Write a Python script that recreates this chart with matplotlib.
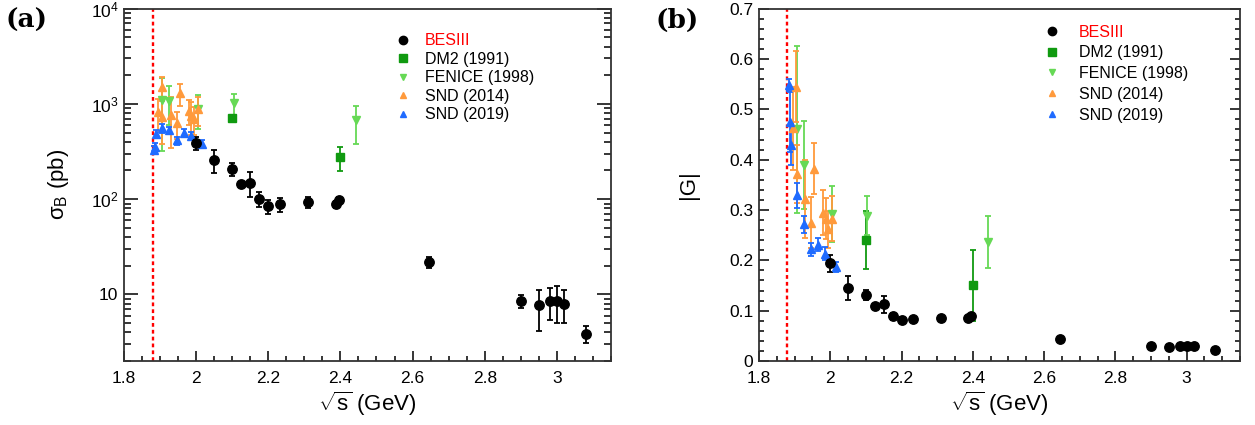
import numpy as np
import matplotlib
matplotlib.use("Agg")
import matplotlib.pyplot as plt
from matplotlib.ticker import FixedLocator, MultipleLocator, NullFormatter
from matplotlib.lines import Line2D

plt.rcParams['font.family'] = ['Liberation Sans', 'DejaVu Sans']
plt.rcParams['mathtext.fontset'] = 'custom'
plt.rcParams['mathtext.rm'] = 'Liberation Sans'
plt.rcParams['mathtext.it'] = 'Liberation Sans:italic'

# BESIII e+e- -> n nbar
bes_x = [2.0, 2.05, 2.1, 2.125, 2.15, 2.175, 2.2, 2.2324, 2.3094, 2.3864, 2.396,
         2.6444, 2.9, 2.95, 2.981, 3.0, 3.02, 3.08]
bes_sig = [385, 260, 209, 144, 149, 100, 84.5, 88.7, 93, 88.7, 98,
           22, 8.45, 7.67, 8.6, 8.6, 8.0, 3.88]
bes_sig_err = [60, 70, 32, 8, 43, 18, 14, 15, 12, 8, 7,
               3, 1.3, 3.5, 3.2, 3.6, 3.0, 0.8]
bes_g = [0.194, 0.145, 0.132, 0.109, 0.113, 0.089, 0.082, 0.083, 0.085, 0.085, 0.090,
         0.044, 0.029, 0.028, 0.030, 0.030, 0.029, 0.021]
bes_g_err = [0.017, 0.024, 0.010, 0.004, 0.017, 0.007, 0.005, 0.004, 0.004, 0.003, 0.003,
             0.003, 0.002, 0.003, 0.003, 0.003, 0.003, 0.002]

# DM2 (1991)
dm2_x = [2.1, 2.4]
dm2_sig = [714, 277]
dm2_sig_err = [40, 80]
dm2_g = [0.241, 0.150]
dm2_g_err = [0.058, 0.070]

# FENICE (1998)
fen_x = [1.906, 1.926, 2.005, 2.104, 2.444]
fen_sig = [1100, 1080, 890, 1015, 670]
fen_sig_err = [780, 480, 340, 250, 290]
fen_g = [0.460, 0.389, 0.292, 0.289, 0.237]
fen_g_err = [0.165, 0.088, 0.055, 0.039, 0.052]

# SND (2014)
snd14_x = [1.894, 1.905, 1.906, 1.929, 1.946, 1.955, 1.980, 1.987, 1.994, 2.005]
snd14_sig = [817, 1516, 725, 767, 627, 1290, 851, 755, 697, 887]
snd14_sig_err = [300, 420, 350, 420, 200, 340, 250, 280, 230, 300]
snd14_g = [0.462, 0.545, 0.372, 0.322, 0.275, 0.382, 0.295, 0.283, 0.262, 0.283]
snd14_g_err = [0.083, 0.070, 0.058, 0.077, 0.050, 0.051, 0.045, 0.040, 0.037, 0.045]

# SND (2019)
snd19_x = [1.8845, 1.8865, 1.8895, 1.9055, 1.926, 1.946, 1.966, 1.986, 2.016]
snd19_sig = [330, 350, 487, 560, 526, 414, 500, 465, 380]
snd19_sig_err = [35, 35, 50, 60, 45, 40, 45, 45, 35]
snd19_g = [0.549, 0.475, 0.430, 0.329, 0.272, 0.222, 0.231, 0.213, 0.187]
snd19_g_err = [0.012, 0.060, 0.040, 0.025, 0.017, 0.013, 0.013, 0.013, 0.010]

threshold = 2 * 0.93957

c_bes = 'black'
c_dm2 = '#109a10'
c_fen = '#66d955'
c_s14 = '#ff9a3c'
c_s19 = '#1f6bff'

fig = plt.figure(figsize=(12.55, 4.25), dpi=100)
axa = fig.add_axes([0.0988, 0.1506, 0.3880, 0.8290])
axb = fig.add_axes([0.6048, 0.1506, 0.3833, 0.8290])

eb = dict(capsize=2.2, elinewidth=1.3, capthick=1.3, linestyle='none')


def draw(ax, key):
    if key == 'sig':
        sets = [(dm2_x, dm2_sig, dm2_sig_err), (fen_x, fen_sig, fen_sig_err),
                (snd14_x, snd14_sig, snd14_sig_err), (snd19_x, snd19_sig, snd19_sig_err),
                (bes_x, bes_sig, bes_sig_err)]
    else:
        sets = [(dm2_x, dm2_g, dm2_g_err), (fen_x, fen_g, fen_g_err),
                (snd14_x, snd14_g, snd14_g_err), (snd19_x, snd19_g, snd19_g_err),
                (bes_x, bes_g, bes_g_err)]
    styles = [('s', c_dm2, 5.5), ('v', c_fen, 6), ('^', c_s14, 6), ('^', c_s19, 6), ('o', c_bes, 6.8)]
    for (x, y, e), (m, c, ms) in zip(sets, styles):
        ax.errorbar(x, y, yerr=e, marker=m, ms=ms, color=c, mec=c, ecolor=c, **eb)
    ax.axvline(threshold, color='red', lw=1.7, linestyle=(0, (1.6, 1.3)), zorder=0)

    handles = [Line2D([], [], ls='none', marker='o', ms=6, color=c_bes),
               Line2D([], [], ls='none', marker='s', ms=5.5, color=c_dm2),
               Line2D([], [], ls='none', marker='v', ms=5, color=c_fen),
               Line2D([], [], ls='none', marker='^', ms=5, color=c_s14),
               Line2D([], [], ls='none', marker='^', ms=5, color=c_s19)]
    labels = ['BESIII', 'DM2 (1991)', 'FENICE (1998)', 'SND (2014)', 'SND (2019)']
    return handles, labels


def style_axes(ax):
    ax.set_xlim(1.8, 3.15)
    ax.xaxis.set_major_locator(FixedLocator([1.8, 2.0, 2.2, 2.4, 2.6, 2.8, 3.0]))
    ax.set_xticklabels(['1.8', '2', '2.2', '2.4', '2.6', '2.8', '3'])
    ax.xaxis.set_minor_locator(MultipleLocator(0.05))
    ax.tick_params(axis='x', which='major', direction='in', length=7.5, width=1.1, labelsize=12.5, pad=7)
    ax.tick_params(axis='x', which='minor', direction='in', length=3.8, width=1.1)
    for s in ax.spines.values():
        s.set_linewidth(1.3)
        s.set_color('#333333')
    ax.set_xlabel(r'$\sqrt{\mathrm{s}}$ (GeV)', fontsize=16, labelpad=3)


# (a) cross section
h, l = draw(axa, 'sig')
style_axes(axa)
axa.set_yscale('log')
axa.set_ylim(2, 1e4)
axa.yaxis.set_major_locator(FixedLocator([10, 100, 1000, 10000]))
axa.set_yticklabels(['10', r'$10^{2}$', r'$10^{3}$', r'$10^{4}$'])
axa.yaxis.set_minor_locator(FixedLocator([k * 10.0 ** p for p in range(0, 4) for k in range(2, 10)]))
axa.yaxis.set_minor_formatter(NullFormatter())
axa.tick_params(axis='y', which='major', direction='in', length=10, width=1.1, labelsize=12.5,
                right=True, pad=4)
axa.tick_params(axis='y', which='minor', direction='in', length=5, width=1.1, right=True)
axa.set_ylabel(r'σ$_{\mathrm{B}}$ (pb)', fontsize=16, labelpad=14)
leg = axa.legend(h, l, loc='upper left', bbox_to_anchor=(0.556, 0.93), frameon=False,
                 fontsize=11.5, handlelength=1.0, handletextpad=0.9, labelspacing=0.22,
                 borderaxespad=0, borderpad=0)
leg.get_texts()[0].set_color('red')

# (b) effective form factor
h, l = draw(axb, 'g')
style_axes(axb)
axb.set_ylim(0, 0.7)
axb.set_yticks(np.arange(0, 0.71, 0.1))
axb.set_yticklabels(['0', '0.1', '0.2', '0.3', '0.4', '0.5', '0.6', '0.7'])
axb.yaxis.set_minor_locator(MultipleLocator(0.02))
axb.tick_params(axis='y', which='major', direction='in', length=7.5, width=1.1, labelsize=12.5,
                right=True, pad=4)
axb.tick_params(axis='y', which='minor', direction='in', length=3.8, width=1.1, right=True)
axb.set_ylabel('|G|', fontsize=16, labelpad=22)
leg = axb.legend(h, l, loc='upper left', bbox_to_anchor=(0.592, 0.955), frameon=False,
                 fontsize=11.5, handlelength=1.0, handletextpad=1.2, labelspacing=0.36,
                 borderaxespad=0, borderpad=0)
leg.get_texts()[0].set_color('red')

fig.text(0.0215, 0.953, '(a)', fontsize=19, fontweight='bold', family='DejaVu Serif',
         ha='center', va='center')
fig.text(0.5395, 0.953, '(b)', fontsize=19, fontweight='bold', family='DejaVu Serif',
         ha='center', va='center')

fig.savefig('out.png', dpi=100)
